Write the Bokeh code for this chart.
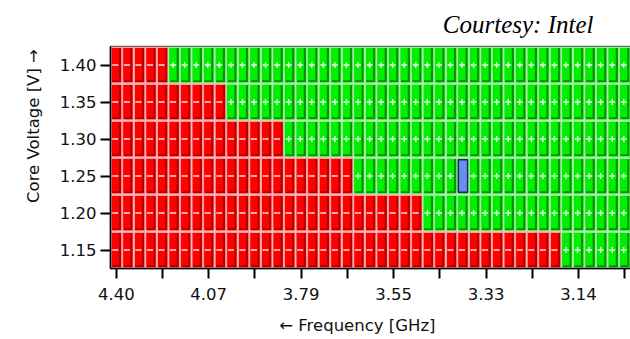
from bokeh.plotting import figure
from bokeh.models import FixedTicker, ColumnDataSource
from bokeh.embed import file_html
from bokeh.resources import INLINE

# ---- data ----
voltages = [1.40, 1.35, 1.30, 1.25, 1.20, 1.15]
first_pass_col = [5, 10, 15, 21, 27, 39]   # columns 0..k-1 fail, rest pass
n_cols = 45
freq_tick_cols = [0, 8, 16, 24, 32, 40]
freq_tick_labels = ["4.40", "4.07", "3.79", "3.55", "3.33", "3.14"]
blue_col = 30
blue_voltage = 1.25

FONT = "DejaVu Sans"
NB = "\u00a0"

p = figure(width=630, height=339, output_backend="svg", toolbar_location=None,
           x_range=(-0.5, n_cols - 0.5), y_range=(-0.5, len(voltages) - 0.5),
           min_border_left=110, min_border_right=0, min_border_top=46,
           min_border_bottom=71)
p.background_fill_color = "white"
p.border_fill_color = "white"
p.xgrid.visible = False
p.ygrid.visible = False
p.outline_line_color = "#505050"
p.outline_line_width = 1.5

p.title.text = "Courtesy: Intel"
p.title.align = "right"
p.title.offset = 37
p.title.standoff = 17
p.title.text_line_height = 0.9
p.title.text_font = "Liberation Serif"
p.title.text_font_style = "italic"
p.title.text_font_size = "25px"
p.title.text_color = "black"

# row index: 1.15 -> 0 ... 1.40 -> 5
def row_of(v):
    return len(voltages) - 1 - voltages.index(v)

xs, ys, oks = [], [], []
for v, k in zip(voltages, first_pass_col):
    r = row_of(v)
    for c in range(n_cols):
        xs.append(c)
        ys.append(r)
        oks.append(c >= k)

pale = ["#8cf08c" if o else "#ff9a9a" for o in oks]
dark = ["#009a00" if o else "#b80000" for o in oks]
bright = ["#00f000" if o else "#ff0000" for o in oks]

src = ColumnDataSource(dict(
    l=[x - 0.5 for x in xs], r=[x + 0.5 for x in xs],
    b=[y - 0.5 for y in ys], t=[y + 0.5 for y in ys],
    dl=[x - 0.5 + 0.12 for x in xs], dr=[x + 0.5 - 0.08 for x in xs],
    db=[y - 0.5 + 0.035 for y in ys], dt=[y + 0.5 - 0.04 for y in ys],
    bl=[x - 0.5 + 0.12 for x in xs], br=[x + 0.5 - 0.28 for x in xs],
    bb=[y - 0.5 + 0.09 for y in ys], bt=[y + 0.5 - 0.04 for y in ys],
    pale=pale, dark=dark, bright=bright,
))
p.quad(left="l", right="r", bottom="b", top="t", fill_color="pale", line_color=None, source=src)
p.quad(left="dl", right="dr", bottom="db", top="dt", fill_color="dark", line_color=None, source=src)
p.quad(left="bl", right="br", bottom="bb", top="bt", fill_color="bright", line_color=None, source=src)

brow = row_of(blue_voltage)
fail_x = [x - 0.08 for x, o in zip(xs, oks) if not o]
fail_y = [y for y, o in zip(ys, oks) if not o]
pass_pts = [(x, y) for x, y, o in zip(xs, ys, oks) if o and not (x == blue_col and y == brow)]
pass_x = [x - 0.08 for x, y in pass_pts]
pass_y = [y for x, y in pass_pts]
p.scatter(fail_x, fail_y, marker="dash", size=6, line_color="#ffe8e8", line_width=1.7)
p.scatter(pass_x, pass_y, marker="cross", size=6, line_color="#e8ffe8", line_width=1.4)

p.quad(left=[blue_col - 0.5 + 0.1], right=[blue_col + 0.5 - 0.1],
       bottom=[brow - 0.5 + 0.06], top=[brow + 0.5 - 0.06],
       fill_color="#6690f0", line_color="#1a2a50", line_width=1.5)

# axes
p.xaxis.ticker = FixedTicker(ticks=list(range(0, n_cols, 4)))
overrides = {t: "" for t in range(0, n_cols, 4)}
overrides.update({c: s for c, s in zip(freq_tick_cols, freq_tick_labels)})
p.xaxis.major_label_overrides = overrides
p.yaxis.ticker = FixedTicker(ticks=list(range(len(voltages))))
p.yaxis.major_label_overrides = {row_of(v): f"{v:.2f}" for v in voltages}

for ax in (p.xaxis[0], p.yaxis[0]):
    ax.axis_line_color = "black"
    ax.axis_line_width = 1.5
    ax.major_tick_line_color = "black"
    ax.major_tick_line_width = 2
    ax.major_tick_out = 10
    ax.major_tick_in = 0
    ax.minor_tick_line_color = None
    ax.major_label_text_font = FONT
    ax.major_label_text_font_size = "16.5px"
    ax.major_label_text_color = "#111111"
    ax.axis_label_text_font = FONT
    ax.axis_label_text_font_size = "16.5px"
    ax.axis_label_text_font_style = "normal"
    ax.axis_label_text_color = "#111111"

# non-breaking spaces nudge the centred axis titles to where the reference has them
p.xaxis.axis_label = "\u2190 Frequency [GHz]" + NB * 5
p.yaxis.axis_label = NB * 12 + "Core Voltage [V] \u2192"
p.xaxis.major_label_standoff = 9
p.yaxis.major_label_standoff = 4
p.xaxis.axis_label_standoff = 13
p.yaxis.axis_label_standoff = 14

open("out.html", "w").write(file_html(p, INLINE))
